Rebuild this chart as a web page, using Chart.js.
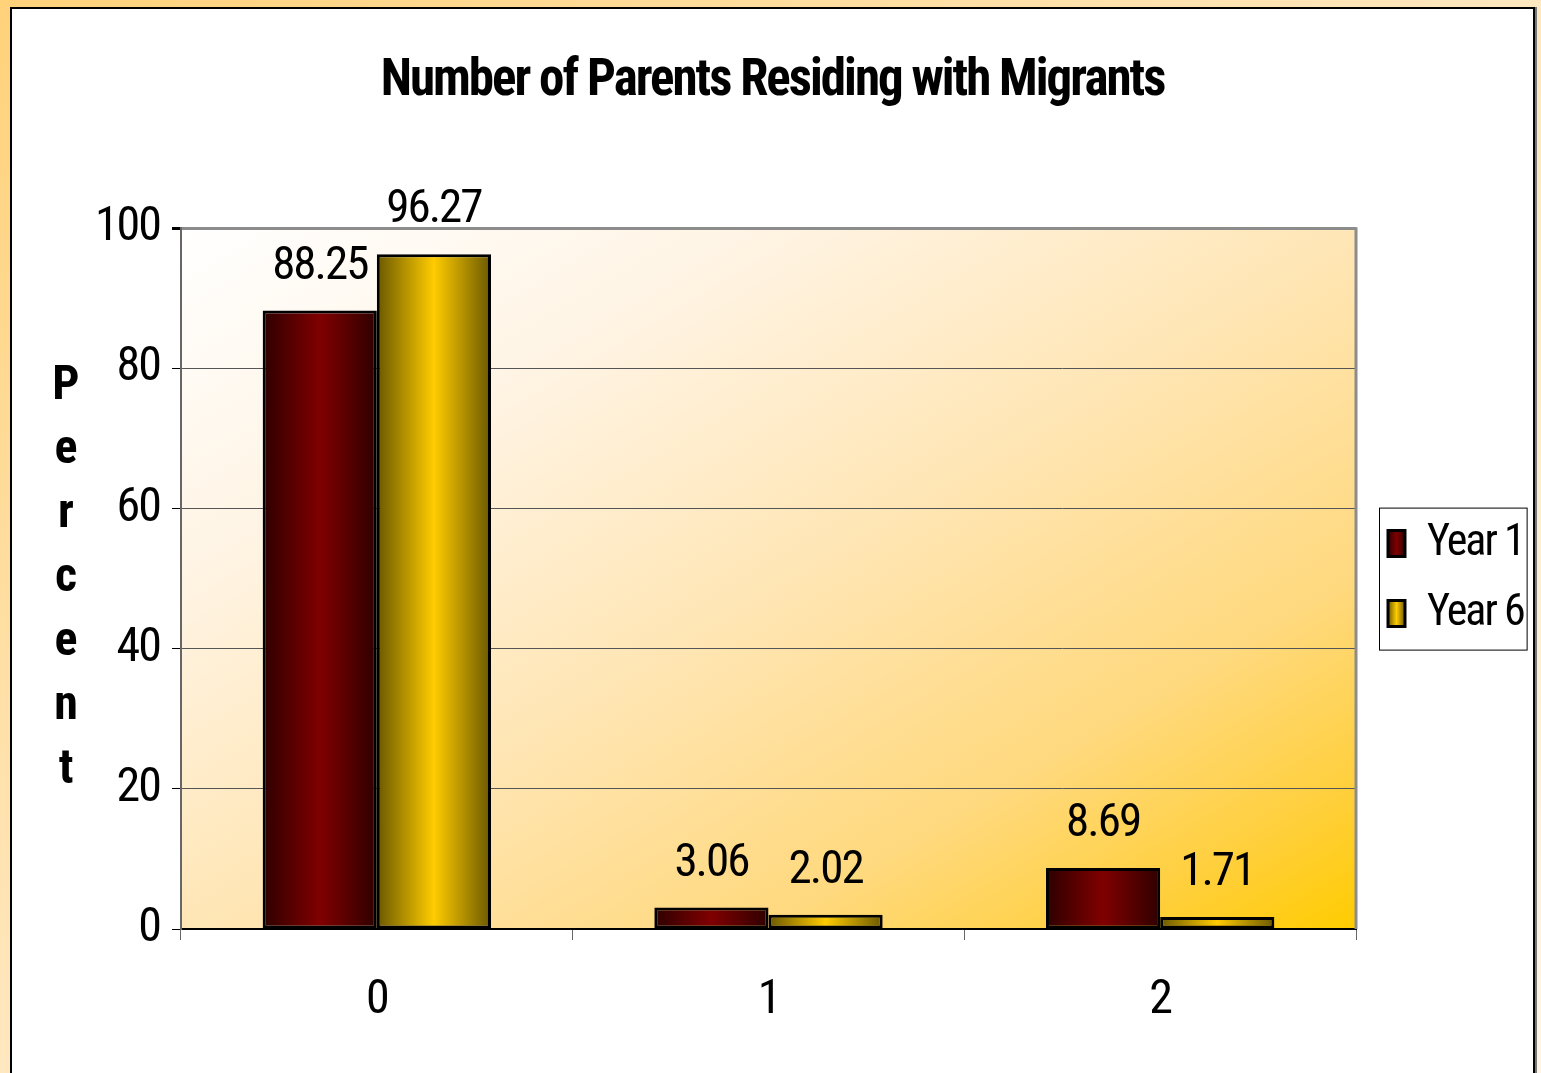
<!DOCTYPE html>
<html lang="en">
<head>
    <meta charset="UTF-8">
    <title>Number of Parents Residing with Migrants</title>
    <script src="https://cdn.jsdelivr.net/npm/chart.js"></script>
    <style>
        html, body { margin: 0; padding: 0; }
        body {
            width: 1541px; height: 1073px; overflow: hidden; position: relative;
            background: linear-gradient(to bottom right, #FFD27A 0%, #FFE7BF 50%, #FFF5E2 100%);
        }
        #panel {
            position: absolute; left: 10px; top: 7px; width: 1521px; height: 1100px;
            background: #fff; border: 2px solid #000; box-shadow: 2px 0 0 #777;
        }
        #panel canvas { position: absolute; left: 0; top: 0; }
    </style>
</head>
<body>
    <div id="panel"><canvas id="parentsChart" width="1521" height="1064"></canvas></div>

    <script>
        const categories = ['0', '1', '2'];
        const year1 = [88.25, 3.06, 8.69];
        const year6 = [96.27, 2.02, 1.71];
        const yTicks = [0, 20, 40, 60, 80, 100];

        const FONT = '"Roboto Condensed", "Liberation Sans", Arial, sans-serif';
        const catPct = 0.583;
        const shades = [['#2e0000', '#800000'], ['#6a5800', '#FFCC00']];

        function hGradient(ctx, left, w, edge, mid) {
            const g = ctx.createLinearGradient(left, 0, left + w, 0);
            g.addColorStop(0, edge);
            g.addColorStop(0.5, mid);
            g.addColorStop(1, edge);
            return g;
        }

        // horizontal shading of each bar, worked out from the x scale
        function barFill(c, ds) {
            const chart = c.chart;
            const [edge, mid] = shades[ds];
            if (c.type !== 'data' || !chart.chartArea) return mid;
            const xs = chart.scales.x;
            const center = xs.getPixelForValue(c.dataIndex);
            const bw = xs.width / categories.length * catPct / 2;
            const left = ds === 0 ? center - bw : center;
            return hGradient(chart.ctx, left, bw, edge, mid);
        }

        const spacing = {
            id: 'spacing',
            beforeUpdate(chart) { chart.ctx.letterSpacing = '-2px'; },
            beforeDraw(chart) { chart.ctx.letterSpacing = '-2px'; }
        };

        const plotBg = {
            id: 'plotBg',
            afterInit(chart) {
                const lg = chart.legend;
                const fit = lg.fit;
                lg.fit = function () { fit.call(this); this.width = 177; };
            },
            afterLayout(chart) {
                chart.legend.left += 6;
                chart.legend.right += 6;
            },
            beforeDraw(chart) {
                const {ctx, chartArea: a} = chart;
                const w = a.right - a.left, h = a.bottom - a.top;
                const k = 2 * w * h / (w * w + h * h);
                const g = ctx.createLinearGradient(a.left, a.top, a.left + h * k, a.top + w * k);
                g.addColorStop(0, '#FFFFFF');
                g.addColorStop(0.25, '#FFF4E4');
                g.addColorStop(0.5, '#FFE6B6');
                g.addColorStop(0.75, '#FFD97E');
                g.addColorStop(0.9, '#FFCF3A');
                g.addColorStop(1, '#FFCC00');
                ctx.save();
                ctx.fillStyle = g;
                ctx.fillRect(a.left, a.top, w, h);
                ctx.restore();
            },
            afterDatasetsDraw(chart) {
                const ctx = chart.ctx;
                ctx.save();
                ctx.font = '47px ' + FONT;
                ctx.fillStyle = '#000';
                ctx.textAlign = 'center';
                ctx.textBaseline = 'alphabetic';
                chart.data.datasets.forEach((ds, i) => {
                    chart.getDatasetMeta(i).data.forEach((bar, j) => {
                        ctx.fillText(ds.data[j].toFixed(2), bar.x, bar.y - 32);
                    });
                });
                ctx.restore();
            },
            afterDraw(chart) {
                const {ctx, chartArea: a} = chart;
                ctx.save();
                // right edge of the plot frame
                ctx.strokeStyle = '#8c8c8c';
                ctx.lineWidth = 3;
                ctx.beginPath();
                ctx.moveTo(a.right, a.top - 1);
                ctx.lineTo(a.right, a.bottom);
                ctx.stroke();

                // stacked axis title
                ctx.font = 'bold 48px ' + FONT;
                ctx.fillStyle = '#000';
                ctx.textAlign = 'center';
                ctx.textBaseline = 'middle';
                const word = 'Percent';
                const mid = (a.top + a.bottom) / 2;
                for (let i = 0; i < word.length; i++) {
                    ctx.fillText(word[i], 53, mid + (i - 3) * 64);
                }

                // legend frame
                const hb = chart.legend.legendHitBoxes;
                const l = hb[0].left - 9;
                const r = Math.max(...hb.map(h => h.left + h.width)) + 3;
                const t = hb[0].top - 14;
                const b = hb[hb.length - 1].top + hb[hb.length - 1].height + 14;
                ctx.strokeStyle = '#000';
                ctx.lineWidth = 1;
                ctx.strokeRect(l + 0.5, t + 0.5, r - l, b - t);
                ctx.restore();
            }
        };

        new Chart(document.getElementById('parentsChart'), {
            type: 'bar',
            data: {
                labels: categories,
                datasets: [
                    {
                        label: 'Year 1',
                        data: year1,
                        backgroundColor: c => barFill(c, 0),
                        borderColor: '#000',
                        borderWidth: 3,
                        borderSkipped: false
                    },
                    {
                        label: 'Year 6',
                        data: year6,
                        backgroundColor: c => barFill(c, 1),
                        borderColor: '#000',
                        borderWidth: 3,
                        borderSkipped: false
                    }
                ]
            },
            options: {
                responsive: false,
                animation: false,
                events: [],
                categoryPercentage: catPct,
                barPercentage: 1,
                layout: { padding: { left: 0, right: 0, top: 0, bottom: 0 } },
                scales: {
                    x: {
                        afterFit: s => { s.height = 144; },
                        grid: {
                            display: true,
                            drawOnChartArea: false,
                            tickLength: 11,
                            tickColor: '#666',
                            offset: true
                        },
                        border: { color: '#000', width: 2 },
                        ticks: {
                            color: '#000',
                            padding: 32,
                            font: { family: FONT, size: 48 }
                        }
                    },
                    y: {
                        min: 0,
                        max: 100,
                        afterFit: s => { s.width = 169; },
                        afterBuildTicks: s => { s.ticks = yTicks.map(v => ({ value: v })); },
                        grid: {
                            color: c => c.tick && c.tick.value === 100 ? '#8c8c8c' : '#555',
                            lineWidth: c => c.tick && c.tick.value === 100 ? 3 : 1,
                            tickColor: '#000',
                            tickLength: 9
                        },
                        border: { color: '#666', width: 2 },
                        ticks: {
                            color: '#000',
                            padding: 12,
                            font: { family: FONT, size: 48 }
                        }
                    }
                },
                plugins: {
                    title: {
                        display: true,
                        text: 'Number of Parents Residing with Migrants',
                        color: '#000',
                        font: { family: FONT, size: 51, weight: 'bold' },
                        padding: { top: 43, bottom: 115 }
                    },
                    legend: {
                        position: 'right',
                        fullSize: false,
                        labels: {
                            color: '#000',
                            font: { family: FONT, size: 44 },
                            boxWidth: 17,
                            boxHeight: 26,
                            padding: 26,
                            generateLabels(chart) {
                                const items = Chart.defaults.plugins.legend.labels.generateLabels(chart);
                                const lg = chart.legend;
                                items.forEach((it, i) => {
                                    if (lg && Number.isFinite(lg.left)) {
                                        it.fillStyle = hGradient(chart.ctx, lg.left + 26, 17, shades[i][0], shades[i][1]);
                                    } else {
                                        it.fillStyle = shades[i][1];
                                    }
                                });
                                return items;
                            }
                        }
                    },
                    tooltip: { enabled: false }
                }
            },
            plugins: [spacing, plotBg]
        });
    </script>
</body>
</html>
